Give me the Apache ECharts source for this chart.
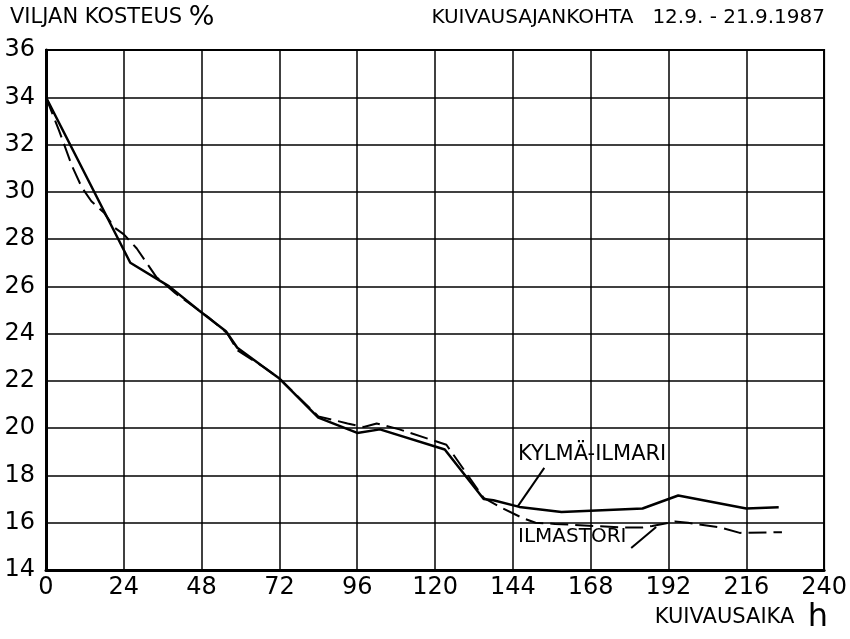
<!DOCTYPE html>
<html>
<head>
<meta charset="utf-8">
<script src="https://cdn.jsdelivr.net/npm/echarts@6/dist/echarts.min.js"></script>
<style>
  html, body { margin: 0; padding: 0; background: #fff; }
  #chart { width: 850px; height: 639px; }
</style>
</head>
<body>
<div id="chart"></div>
<script>
// kuivausaika h / viljan kosteus %
var kylmaIlmari = [
    [0, 34], [26, 27.0], [38, 26.0], [47, 25.0], [55.5, 24.1], [59, 23.4], [67, 22.6],
    [72, 22.1], [84, 20.45], [96, 19.8], [103, 19.95], [123, 19.1], [135, 17.0],
    [138, 16.95], [146, 16.67], [159, 16.45], [184, 16.6], [195, 17.15], [216, 16.6], [226, 16.65]
];
var ilmastori = [
    [0, 34], [4, 32.6], [8, 31.1], [11, 30.2], [14, 29.6], [18, 29.1], [21, 28.5], [24, 28.2],
    [28, 27.6], [34, 26.4], [40, 25.7], [50, 24.7], [56, 24.0], [59, 23.3], [67, 22.6],
    [72, 22.1], [84, 20.5], [93, 20.2], [98, 20.05], [102, 20.2], [109, 19.95], [119, 19.5],
    [123.5, 19.3], [135, 17.05], [141, 16.6], [147, 16.2], [151, 16.0], [157, 15.95],
    [171, 15.85], [177, 15.8], [184, 15.8], [187, 15.86], [194, 16.05], [198, 16.0],
    [208, 15.8], [214, 15.57], [227, 15.6]
];
// nimien viivat (tunnit, kosteus)
var kylmaLeader = [[153.7, 18.32], [145.4, 16.67]];
var ilmastoriLeader = [[180.5, 14.93], [188.2, 15.82]];

var xTicks = { min: 0, max: 240, step: 24 };
var yTicks = { min: 14, max: 36, step: 2 };

var numFont = 'DejaVu Sans';
var txtFont = 'DejaVu Sans, sans-serif';

var chart = echarts.init(document.getElementById('chart'));

var option = {
    backgroundColor: '#fff',
    animation: false,
    grid: {
        left: 46, right: 25, top: 50, bottom: 69,
        show: true, borderColor: '#000', borderWidth: 2
    },
    xAxis: {
        type: 'value',
        min: xTicks.min, max: xTicks.max, interval: xTicks.step,
        axisLine: { show: true, onZero: false, lineStyle: { color: '#000', width: 3 } },
        axisTick: { show: false },
        splitLine: { show: true, lineStyle: { color: '#000', width: 1.5 } },
        axisLabel: {
            color: '#000', fontFamily: numFont, fontSize: 24, margin: 6,
            showMinLabel: true, showMaxLabel: true
        }
    },
    yAxis: {
        type: 'value',
        min: yTicks.min, max: yTicks.max, interval: yTicks.step,
        axisLine: { show: true, onZero: false, lineStyle: { color: '#000', width: 3 } },
        axisTick: { show: false },
        splitLine: { show: true, lineStyle: { color: '#000', width: 1.5 } },
        axisLabel: {
            color: '#000', fontFamily: numFont, fontSize: 24, margin: 11,
            showMinLabel: true, showMaxLabel: true
        }
    },
    series: [
        {
            name: 'KYLMÄ-ILMARI',
            type: 'line',
            data: kylmaIlmari,
            showSymbol: false,
            lineStyle: { color: '#000', width: 2.5 },
            markLine: {
                silent: true, symbol: 'none', label: { show: false },
                lineStyle: { color: '#000', width: 2, type: 'solid' },
                data: [[{ coord: kylmaLeader[0] }, { coord: kylmaLeader[1] }]]
            }
        },
        {
            name: 'ILMASTORI',
            type: 'line',
            data: ilmastori,
            showSymbol: false,
            lineStyle: { color: '#000', width: 2, type: [18, 7] },
            markLine: {
                silent: true, symbol: 'none', label: { show: false },
                lineStyle: { color: '#000', width: 2, type: 'solid' },
                data: [[{ coord: ilmastoriLeader[0] }, { coord: ilmastoriLeader[1] }]]
            }
        }
    ],
    graphic: [
        {
            type: 'text', left: 10, top: 4,
            style: {
                text: 'VILJAN KOSTEUS {p|%}',
                fill: '#000', font: '21px ' + txtFont,
                rich: { p: { fontSize: 27, fontFamily: txtFont, fill: '#000' } }
            }
        },
        {
            type: 'text', right: 25, top: 8,
            style: { text: 'KUIVAUSAJANKOHTA   12.9. - 21.9.1987', fill: '#000', font: '20px ' + txtFont }
        },
        {
            type: 'text', right: 22, top: 602,
            style: {
                text: 'KUIVAUSAIKA  {h|h}',
                fill: '#000', font: '21px ' + txtFont,
                rich: { h: { fontSize: 32, fontFamily: txtFont, fill: '#000' } }
            }
        },
        {
            type: 'text', left: 518, top: 444,
            style: { text: 'KYLMÄ-ILMARI', fill: '#000', font: '21px ' + txtFont }
        },
        {
            type: 'text', left: 518, top: 527,
            style: { text: 'ILMASTORI', fill: '#000', font: '20px ' + txtFont }
        }
    ]
};

chart.setOption(option);
</script>
</body>
</html>
